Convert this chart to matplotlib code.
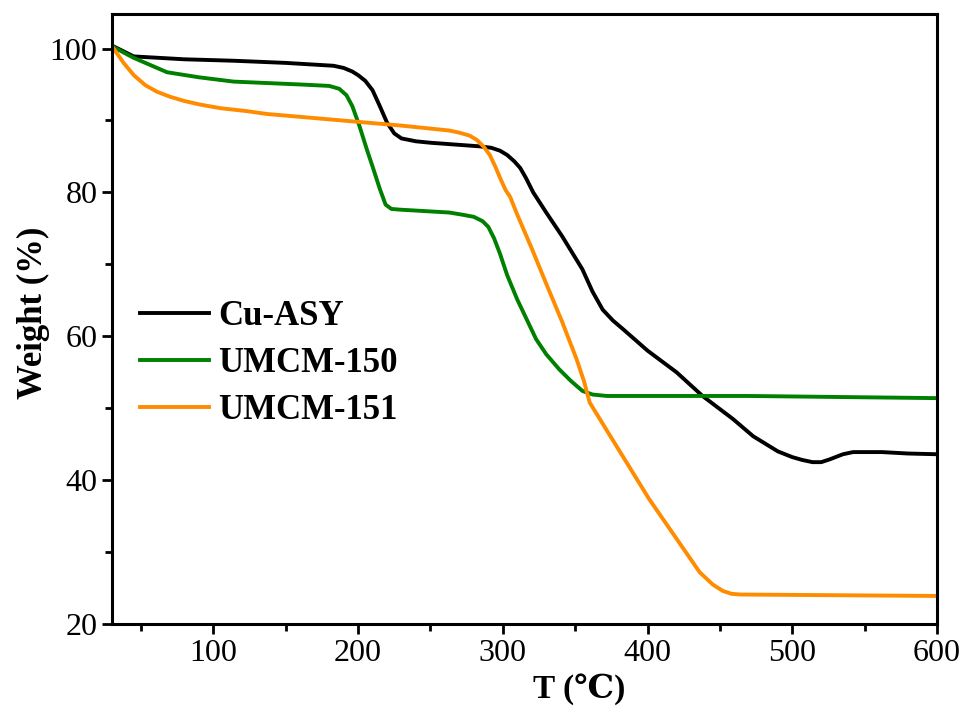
import matplotlib
matplotlib.use("Agg")
import matplotlib.pyplot as plt
from matplotlib.ticker import MultipleLocator

plt.rcParams['font.family'] = ['Liberation Serif', 'DejaVu Serif']

# TGA curves
cu_asy_T = [30, 45, 80, 114, 150, 183, 190, 196, 200, 205, 210, 215, 220, 225, 230, 240,
            250, 284, 292, 298, 303, 308, 312, 316, 321, 330, 341, 355, 362, 369, 376,
            383, 400, 420, 438, 459, 473, 490, 500, 507, 514, 520, 526, 535, 542, 562,
            580, 600]
cu_asy_w = [100.4, 98.9, 98.5, 98.3, 98.0, 97.6, 97.3, 96.8, 96.3, 95.5, 94.2, 92.0, 89.7,
            88.2, 87.5, 87.1, 86.9, 86.4, 86.2, 85.8, 85.2, 84.3, 83.4, 82.0, 80.0, 77.2,
            73.9, 69.3, 66.2, 63.7, 62.2, 61.0, 58.0, 55.0, 51.7, 48.5, 46.1, 44.0, 43.2,
            42.8, 42.5, 42.5, 42.9, 43.6, 43.9, 43.9, 43.7, 43.6]

umcm150_T = [30, 45, 68, 90, 114, 160, 180, 187, 192, 196, 201, 206, 210, 215, 219, 223,
             229, 263, 272, 280, 286, 290, 294, 298, 303, 310, 323, 330, 339, 347, 355,
             362, 372, 470, 600]
umcm150_w = [100.3, 98.7, 96.7, 96.0, 95.4, 95.0, 94.8, 94.4, 93.5, 92.0, 89.2, 86.0, 83.6,
             80.5, 78.3, 77.7, 77.6, 77.2, 76.9, 76.6, 76.0, 75.2, 73.6, 71.5, 68.5, 65.1,
             59.6, 57.5, 55.4, 53.8, 52.4, 51.9, 51.7, 51.7, 51.4]

umcm151_T = [30, 38, 45, 53, 61, 70, 80, 91, 105, 123, 137, 160, 183, 229, 263, 270, 277,
             282, 287, 291, 295, 299, 302, 305, 310, 320, 330, 341, 351, 356, 360, 367,
             401, 436, 445, 452, 458, 464, 600]
umcm151_w = [100.3, 98.0, 96.3, 94.9, 94.0, 93.3, 92.7, 92.2, 91.7, 91.3, 90.9, 90.5, 90.1,
             89.3, 88.6, 88.3, 87.9, 87.3, 86.3, 85.2, 83.5, 81.6, 80.3, 79.4, 76.9, 72.2,
             67.3, 62.0, 56.8, 53.8, 50.8, 48.5, 37.4, 27.2, 25.5, 24.6, 24.2, 24.1, 23.9]

labels = ["Cu-ASY", "UMCM-150", "UMCM-151"]
colors = ["black", "#008000", "#ff8c00"]

fig = plt.figure(figsize=(9.69, 7.13), dpi=100)
ax = fig.add_axes([0.1156, 0.1248, 0.8514, 0.8556])

ax.plot(cu_asy_T, cu_asy_w, color=colors[0], lw=2.8, label=labels[0])
ax.plot(umcm150_T, umcm150_w, color=colors[1], lw=2.8, label=labels[1])
ax.plot(umcm151_T, umcm151_w, color=colors[2], lw=2.8, label=labels[2])

ax.set_xlim(30, 600)
ax.set_ylim(20, 104.8)
ax.xaxis.set_major_locator(MultipleLocator(100))
ax.xaxis.set_minor_locator(MultipleLocator(50))
ax.yaxis.set_major_locator(MultipleLocator(20))
ax.yaxis.set_minor_locator(MultipleLocator(10))

for s in ax.spines.values():
    s.set_linewidth(2.2)
ax.tick_params(which='both', direction='out', top=False, right=False, width=2)
ax.tick_params(which='major', length=7, labelsize=23)
ax.tick_params(which='minor', length=5)

ax.set_xlabel("T (℃)", fontsize=24, fontweight='bold')
ax.xaxis.set_label_coords(0.566, -0.08)
ax.set_ylabel("Weight (%)", fontsize=25, fontweight='bold')
ax.yaxis.set_label_coords(-0.075, 0.51)

ax.legend(loc='upper left', bbox_to_anchor=(-0.004, 0.582), frameon=False,
          prop={'size': 25, 'weight': 'bold'}, handlelength=2.0, handletextpad=0.25,
          labelspacing=0.4)

fig.savefig("out.png", dpi=100)
